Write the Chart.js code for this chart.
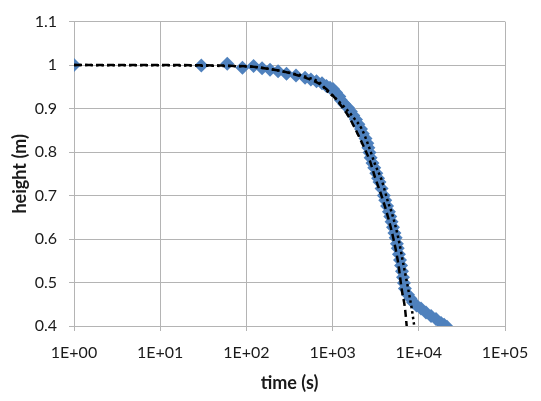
<!DOCTYPE html>
<html>
<head>
<meta charset="utf-8">
<script src="https://cdn.jsdelivr.net/npm/chart.js@4/dist/chart.umd.min.js"></script>
<style>
  html, body { margin: 0; padding: 0; background: #fff; }
  #wrap { width: 541px; height: 401px; }
</style>
</head>
<body>
<div id="wrap"><canvas id="chart" width="541" height="401"></canvas></div>
<script>
// measured drainage data (blue diamonds)
const measTime = [1, 30, 60, 90, 121, 152, 188, 233, 292, 376, 479, 560, 650, 753, 849, 933, 1011, 1095,
    1197, 1251, 1373, 1509, 1630, 1740, 1867, 1990, 2134, 2245, 2408, 2527, 2600, 2680, 2761, 2901, 3042,
    3215, 3370, 3498, 3698, 3926, 4079, 4281, 4505, 4662, 4831, 5022, 5220, 5392, 5570, 5697, 5881, 6056,
    6229, 6386, 6560, 6725, 6893, 7500, 8000, 8600, 9400, 10610, 12130, 13870, 15840, 18120, 19660, 21240]
const measHeight = [1.0, 0.999, 1.003, 0.994, 0.998, 0.993, 0.989, 0.986, 0.980, 0.976, 0.971, 0.967, 0.963, 0.958, 0.952, 0.948, 0.945, 0.937,
    0.928, 0.919, 0.910, 0.902, 0.893, 0.884, 0.875, 0.864, 0.853, 0.842, 0.831, 0.820, 0.810, 0.799, 0.787, 0.775, 0.764,
    0.751, 0.740, 0.731, 0.716, 0.700, 0.689, 0.676, 0.663, 0.652, 0.640, 0.627, 0.614, 0.603, 0.589, 0.579, 0.565, 0.552,
    0.539, 0.526, 0.512, 0.499, 0.486, 0.472, 0.463, 0.454, 0.447, 0.440, 0.431, 0.423, 0.416, 0.407, 0.403, 0.398]

// model 1 (dashed)
const dashTime = [1, 10, 100, 200, 300, 419, 547, 714, 933, 1219, 1469, 1679, 2253, 2716, 3105, 3715, 4246, 5060, 5785, 6336, 6920, 7244]
const dashHeight = [1.0, 1.0, 0.997, 0.990, 0.983, 0.975, 0.967, 0.956, 0.937, 0.910, 0.888, 0.868, 0.816, 0.779, 0.742, 0.698, 0.661, 0.602, 0.543, 0.484, 0.440, 0.399]

// model 2 (dotted)
const dotTime = [1, 100, 200, 300, 419, 547, 714, 855, 1116, 1393, 1819, 2177, 2596, 3105, 3715, 4426, 4850, 5785, 6607, 7552, 8275, 8869]
const dotHeight = [1.0, 0.997, 0.990, 0.983, 0.977, 0.970, 0.959, 0.941, 0.921, 0.902, 0.875, 0.853, 0.816, 0.772, 0.735, 0.683, 0.661, 0.602, 0.543, 0.484, 0.440, 0.399]

const xTicks = [1, 10, 100, 1000, 10000, 100000]

const toPoints = (xs, ys) => xs.map((x, i) => ({ x: x, y: ys[i] }))

const gridColor = '#b4b4b4'
const textColor = '#1a1a1a'
const tickFont = { family: 'Lato', size: 16 }
const titleFont = { family: 'Lato', size: 18, weight: 'bold' }

new Chart(document.getElementById('chart'), {
    type: 'scatter',
    data: {
        datasets: [{
            label: 'model 1',
            data: toPoints(dashTime, dashHeight),
            showLine: true,
            borderColor: '#000',
            borderWidth: 2.5,
            borderDash: [7, 4],
            pointRadius: 0,
            cubicInterpolationMode: 'monotone'
        }, {
            label: 'model 2',
            data: toPoints(dotTime, dotHeight),
            showLine: true,
            borderColor: '#000',
            borderWidth: 2.5,
            borderDash: [2.5, 3],
            pointRadius: 0,
            cubicInterpolationMode: 'monotone'
        }, {
            label: 'measured',
            data: toPoints(measTime, measHeight),
            showLine: false,
            pointStyle: 'rectRot',
            pointRadius: 7,
            pointBackgroundColor: '#4F81BD',
            pointBorderColor: '#4F81BD',
            pointBorderWidth: 0
        }]
    },
    options: {
        responsive: false,
        animation: false,
        layout: { padding: { top: 8, right: 36, bottom: 0, left: 0 } },
        plugins: {
            legend: { display: false },
            tooltip: { enabled: false }
        },
        scales: {
            x: {
                type: 'logarithmic',
                min: 1,
                max: 100000,
                afterBuildTicks: function(scale) {
                    scale.ticks = xTicks.map(v => ({ value: v }))
                },
                afterFit: function(scale) { scale.height = 75 },
                ticks: {
                    autoSkip: false,
                    maxRotation: 0,
                    padding: 12,
                    color: textColor,
                    font: tickFont,
                    callback: function(v) {
                        return '1E+' + String(Math.round(Math.log10(v))).padStart(2, '0')
                    }
                },
                grid: { color: gridColor, tickLength: 5 },
                border: { color: gridColor },
                title: { display: true, text: 'time (s)', color: textColor, font: titleFont, padding: { top: 0, bottom: 7 } }
            },
            y: {
                min: 0.4,
                max: 1.1,
                afterFit: function(scale) { scale.width = 74 },
                ticks: {
                    stepSize: 0.1,
                    padding: 12,
                    color: textColor,
                    font: tickFont,
                    callback: function(v) { return String(parseFloat(v.toFixed(1))) }
                },
                grid: { color: gridColor, tickLength: 5 },
                border: { color: gridColor },
                title: { display: true, text: 'height (m)', color: textColor, font: titleFont, padding: { top: 9, bottom: 0 } }
            }
        }
    }
})
</script>
</body>
</html>
